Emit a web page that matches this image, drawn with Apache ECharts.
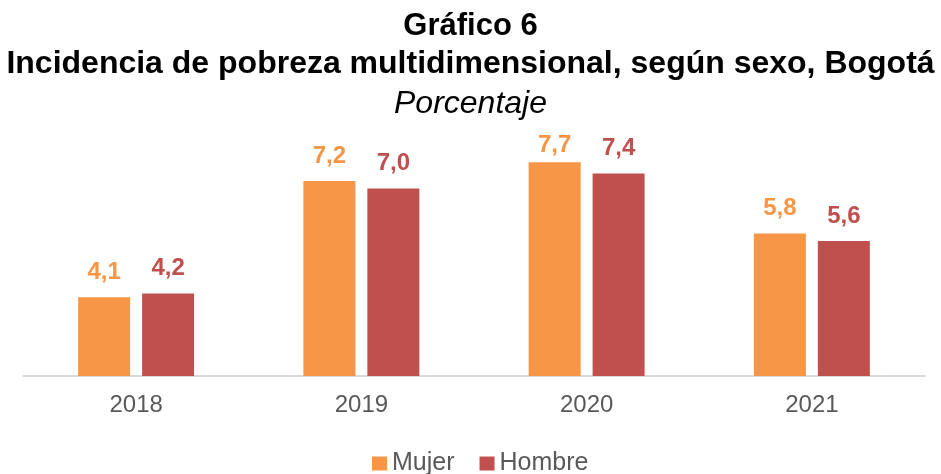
<!DOCTYPE html>
<html>
<head>
<meta charset="utf-8">
<script src="https://cdn.jsdelivr.net/npm/echarts@6/dist/echarts.min.js"></script>
<style>
  html, body { margin: 0; padding: 0; background: #fff; }
  #chart { width: 941px; height: 474px; }
</style>
</head>
<body>
<div id="chart"></div>
<script>
// Gráfico 6 — incidencia de pobreza multidimensional por sexo, Bogotá
const years = ["2018", "2019", "2020", "2021"];
const mujer = [4.1, 7.2, 7.7, 5.8];
const hombre = [4.2, 7.0, 7.4, 5.6];

const FONT = "Liberation Sans, Arial, sans-serif";
const fmt = (p) => p.value.toFixed(1).replace(".", ",");

// the 7,7 label sits closer to its bar in the original (crowded by the subtitle)
const mujerData = mujer.map((v) => (v === 7.7 ? { value: v, label: { distance: 5 } } : v));

const chart = echarts.init(document.getElementById("chart"));
chart.setOption({
  animation: false,
  textStyle: { fontFamily: FONT },
  title: [
    { text: "Gráfico 6", left: "center", top: 6,
      textStyle: { fontFamily: FONT, fontSize: 31, fontWeight: "bold", color: "#000" } },
    { text: "Incidencia de pobreza multidimensional, según sexo, Bogotá", left: "center", top: 43.5,
      textStyle: { fontFamily: FONT, fontSize: 32, fontWeight: "bold", color: "#000" } },
    { text: "Porcentaje", left: "center", top: 83,
      textStyle: { fontFamily: FONT, fontSize: 32, fontStyle: "italic", fontWeight: "normal", color: "#000" } },
  ],
  legend: {
    left: 367, top: 446, itemWidth: 15, itemHeight: 14, itemGap: 25,
    icon: "rect",
    textStyle: { fontFamily: FONT, fontSize: 25, color: "#595959" },
  },
  grid: { left: 23.5, right: 16.5, top: 113.5, bottom: 98 },
  xAxis: {
    type: "category",
    data: years,
    axisTick: { show: false },
    axisLine: { lineStyle: { color: "#d9d9d9", width: 2 } },
    axisLabel: { fontFamily: FONT, fontSize: 24, color: "#595959", margin: 17 },
  },
  yAxis: {
    type: "value", min: 2, max: 9,
    show: false,
    splitLine: { show: false },
  },
  series: [
    { name: "Mujer", type: "bar", data: mujerData, barWidth: 52, barGap: "23%",
      itemStyle: { color: "#F79646" },
      label: { show: true, position: "top", distance: 13, formatter: fmt,
        fontFamily: FONT, fontSize: 24, fontWeight: "bold", color: "#F79646" } },
    { name: "Hombre", type: "bar", data: hombre, barWidth: 52,
      itemStyle: { color: "#C0504D" },
      label: { show: true, position: "top", distance: 13, formatter: fmt,
        fontFamily: FONT, fontSize: 24, fontWeight: "bold", color: "#C0504D" } },
  ],
});
</script>
</body>
</html>
